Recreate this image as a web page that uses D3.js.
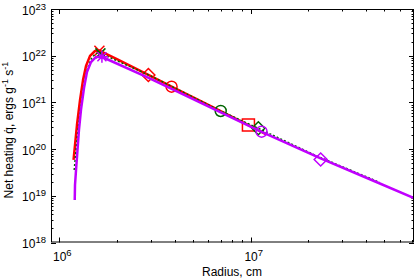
<!DOCTYPE html>
<html><head><meta charset="utf-8">
<script src="https://cdn.jsdelivr.net/npm/d3@7"></script>
<style>body{margin:0;background:#fff}svg{display:block}text{font-family:"Liberation Sans",Arial,sans-serif;fill:#000}</style>
</head><body><svg id="c" width="415" height="279"></svg>
<script>
// ---- data ----
const xMajorTicks = [1e6, 1e7];
const yMajorTicks = [1e18, 1e19, 1e20, 1e21, 1e22, 1e23];
const xLabel = "Radius, cm";
const redR = [1.187e6,1.208e6,1.237e6,1.283e6,1.33e6,1.379e6,1.447e6,1.537e6,1.618e6,2.0e6,2.92e6,3.86e6,6e6,9.73e6,1.2e7];
const redQ = [5.85e19,1.22e20,3.28e20,1.12e21,3.0e21,6.0e21,9.9e21,1.26e22,1.29e22,8.4e21,3.87e21,2.17e21,8.8e20,3.28e20,2.1e20];
const greenR = [1.196e6,1.223e6,1.252e6,1.29e6,1.338e6,1.387e6,1.455e6,1.537e6,1.603e6,3e6,6.97e6,1.096e7,2.2e7,4.7e7];
const greenQ = [3.57e19,9.6e19,2.57e20,6.9e20,2.03e21,4.48e21,8.1e21,1.09e22,1.17e22,3.7e21,6.55e20,2.79e20,7.2e19,1.95e19];
const magR = [1.204e6,1.208e6,1.223e6,1.245e6,1.267e6,1.298e6,1.346e6,1.395e6,1.464e6,1.555e6,1.665e6,2.91e6,5e6,1.118e7,2.32e7,4.5e7,7.13e7];
const magQ = [8.1e18,1.7e19,3.57e19,9.6e19,2.57e20,6.9e20,2.03e21,4.48e21,7.3e21,9.4e21,9.5e21,3.4e21,1.18e21,2.44e20,6.3e19,2.0e19,8.97e18];
const redMarkR = [1.62e6, 2.92e6, 3.86e6, 9.73e6];
const redMarkQ = [1.28e22, 3.87e21, 2.17e21, 3.28e20];
const redMarkS = ["x", "diamond", "circle", "square"];
const greenMarkR = [1.64e6, 6.97e6, 1.096e7];
const greenMarkQ = [1.12e22, 6.55e20, 2.79e20];
const greenMarkS = ["x", "circle", "diamond"];
const magMarkR = [1.67e6, 1.14e7, 2.32e7];
const magMarkQ = [9.5e21, 2.36e20, 6.0e19];
const magMarkS = ["star", "circle", "diamond"];

// ---- layout ----
const L = 51, R = 414, T = 9, B = 242.5;
const svg = d3.select("#c");
const x = d3.scaleLog().domain([9.05e5, 7.13e7]).range([L, R]);
const y = d3.scaleLog().domain([1e18, 1e23]).range([B, T]);

svg.append("clipPath").attr("id","cp").append("rect")
  .attr("x", L).attr("y", T).attr("width", R-L).attr("height", B-T);

function minorVals(lo, hi) {
  const out = [];
  for (let e = Math.floor(Math.log10(lo)); e <= Math.ceil(Math.log10(hi)); e++)
    for (let m = 2; m <= 9; m++) { const v = m * Math.pow(10, e); if (v > lo && v < hi) out.push(v); }
  return out;
}
const g = svg.append("g").attr("stroke", "#000").attr("stroke-width", 1);
const xd = x.domain(), yd = y.domain();
minorVals(xd[0], xd[1]).forEach(v => {
  const px = Math.round(x(v)) + 0.5;
  g.append("line").attr("x1", px).attr("x2", px).attr("y1", B).attr("y2", B - 2.5);
  g.append("line").attr("x1", px).attr("x2", px).attr("y1", T).attr("y2", T + 2.5);
});
xMajorTicks.forEach(v => {
  const px = Math.round(x(v)) + 0.5;
  g.append("line").attr("x1", px).attr("x2", px).attr("y1", B).attr("y2", B - 5);
  g.append("line").attr("x1", px).attr("x2", px).attr("y1", T).attr("y2", T + 5);
});
minorVals(yd[0], yd[1]).forEach(v => {
  const py = Math.round(y(v)) + 0.5;
  g.append("line").attr("x1", L).attr("x2", L + 2.5).attr("y1", py).attr("y2", py);
  g.append("line").attr("x1", R).attr("x2", R - 2.5).attr("y1", py).attr("y2", py);
});
yMajorTicks.forEach(v => {
  const py = Math.round(y(v)) + 0.5;
  g.append("line").attr("x1", L).attr("x2", L + 5).attr("y1", py).attr("y2", py);
  g.append("line").attr("x1", R).attr("x2", R - 5).attr("y1", py).attr("y2", py);
});

function powLabel(sel, v) {
  const e = Math.round(Math.log10(v));
  sel.append("tspan").text("10");
  sel.append("tspan").attr("dy", -5).attr("font-size", 9.5).text(e);
}
yMajorTicks.forEach(v => {
  const t = svg.append("text").attr("x", 46).attr("y", y(v) + 5.5)
    .attr("text-anchor", "end").attr("font-size", 12);
  powLabel(t, v);
});
xMajorTicks.forEach(v => {
  const t = svg.append("text").attr("x", x(v) + 3).attr("y", 261)
    .attr("text-anchor", "middle").attr("font-size", 12);
  powLabel(t, v);
});

svg.append("text").attr("x", 232).attr("y", 276).attr("text-anchor", "middle")
  .attr("font-size", 12).text(xLabel);
const yl = svg.append("text").attr("transform", "translate(13,130) rotate(-90)")
  .attr("text-anchor", "middle").attr("font-size", 12);
yl.append("tspan").text("Net heating q\u0307, ergs g");
yl.append("tspan").attr("dy", -5).attr("font-size", 9).text("-1");
yl.append("tspan").attr("dy", 5).text(" s");
yl.append("tspan").attr("dy", -5).attr("font-size", 9).text("-1");

const line = d3.line().x(d => x(d[0])).y(d => y(d[1]));
const plot = svg.append("g").attr("clip-path", "url(#cp)");
function marker(s, sz) {
  switch (s) {
    case "circle": { const p = d3.path(); p.arc(0, 0, sz, 0, 2 * Math.PI); return p.toString(); }
    case "square": return `M${-sz},${-sz}H${sz}V${sz}H${-sz}Z`;
    case "diamond": return `M0,${-sz}L${sz},0L0,${sz}L${-sz},0Z`;
    case "x": return `M${-sz},${-sz}L${sz},${sz}M${-sz},${sz}L${sz},${-sz}`;
    case "star": { const d = sz * 0.75; return `M${-d},${-d}L${d},${d}M${-d},${d}L${d},${-d}M${-sz},0H${sz}M0,${-sz}V${sz}`; }
  }
}
const sizes = {circle: 5.5, square: 6, diamond: 6.5, x: 5, star: 6};
function series(rs, qs, color, w, dash, mr, mq, ms) {
  plot.append("path").datum(rs.map((r, i) => [r, qs[i]])).attr("d", line)
    .attr("fill", "none").attr("stroke", color).attr("stroke-width", w)
    .attr("stroke-dasharray", dash).attr("stroke-linejoin", "round");
  mr.forEach((r, i) => {
    plot.append("path").attr("d", marker(ms[i], sizes[ms[i]]))
      .attr("transform", `translate(${x(r)},${y(mq[i])})`)
      .attr("fill", "none").attr("stroke", color).attr("stroke-width", 1.5);
  });
}
series(redR, redQ, "#ff0000", 2.5, null, redMarkR, redMarkQ, redMarkS);
series(greenR, greenQ, "#006400", 1.5, "2,2", greenMarkR, greenMarkQ, greenMarkS);
series(magR, magQ, "#c000ff", 2.5, null, magMarkR, magMarkQ, magMarkS);

svg.append("rect").attr("x", L + 0.5).attr("y", T + 0.5).attr("width", R - L - 1).attr("height", B - T - 1)
  .attr("fill", "none").attr("stroke", "#000").attr("stroke-width", 1);
</script></body></html>
